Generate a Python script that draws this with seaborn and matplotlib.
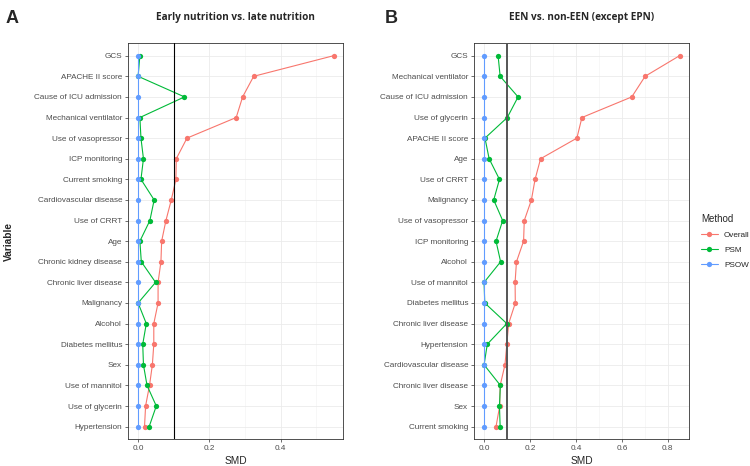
import pandas as pd
import matplotlib
matplotlib.use("Agg")
import matplotlib.pyplot as plt
from matplotlib.ticker import MultipleLocator
import seaborn as sns

# Panel A: early nutrition vs. late nutrition
variables_a = ['GCS', 'APACHE II score', 'Cause of ICU admission', 'Mechanical ventilator',
               'Use of vasopressor', 'ICP monitoring', 'Current smoking', 'Cardiovascular disease',
               'Use of CRRT', 'Age', 'Chronic kidney disease', 'Chronic liver disease',
               'Malignancy', 'Alcohol', 'Diabetes mellitus', 'Sex', 'Use of mannitol',
               'Use of glycerin', 'Hypertension']
overall_a = [0.548, 0.324, 0.293, 0.275, 0.137, 0.107, 0.106, 0.093, 0.078, 0.066,
             0.064, 0.056, 0.056, 0.044, 0.044, 0.040, 0.032, 0.021, 0.018]
psm_a = [0.005, 0.000, 0.130, 0.005, 0.008, 0.015, 0.008, 0.045, 0.033, 0.005,
         0.009, 0.049, 0.000, 0.023, 0.013, 0.015, 0.025, 0.051, 0.031]
psow_a = [0.001] * 19

# Panel B: EEN vs. non-EEN (except EPN)
variables_b = ['GCS', 'Mechanical ventilator', 'Cause of ICU admission', 'Use of glycerin',
               'APACHE II score', 'Age', 'Use of CRRT', 'Malignancy', 'Use of vasopressor',
               'ICP monitoring', 'Alcohol', 'Use of mannitol', 'Diabetes mellitus',
               'Chronic liver disease', 'Hypertension', 'Cardiovascular disease',
               'Chronic liver disease', 'Sex', 'Current smoking']
overall_b = [0.851, 0.701, 0.643, 0.426, 0.404, 0.246, 0.222, 0.206, 0.175, 0.172,
             0.141, 0.135, 0.136, 0.107, 0.099, 0.091, 0.070, 0.068, 0.052]
psm_b = [0.061, 0.070, 0.148, 0.101, 0.004, 0.022, 0.067, 0.042, 0.081, 0.052,
         0.072, 0.000, 0.003, 0.099, 0.014, 0.000, 0.071, 0.067, 0.070]
psow_b = [0.001] * 19

methods = ['Overall', 'PSM', 'PSOW']
palette = {'Overall': '#F8766D', 'PSM': '#00BA38', 'PSOW': '#619CFF'}


def make_df(variables, overall, psm, psow):
    rows = []
    for name, vals in zip(methods, [overall, psm, psow]):
        for i, v in enumerate(vals):
            rows.append({'pos': i, 'Variable': variables[i], 'SMD': v, 'Method': name})
    return pd.DataFrame(rows)


df_a = make_df(variables_a, overall_a, psm_a, psow_a)
df_b = make_df(variables_b, overall_b, psm_b, psow_b)

sns.set_style('white')
plt.rcParams['font.family'] = ['Liberation Sans', 'DejaVu Sans']

fig = plt.figure(figsize=(7.5, 4.66), dpi=100)
ax1 = fig.add_axes([0.1711, 0.058, 0.2867, 0.849])
ax2 = fig.add_axes([0.6324, 0.058, 0.2867, 0.849])

panels = [(ax1, df_a, variables_a, 'Early nutrition vs. late nutrition', 'black', 0.8),
          (ax2, df_b, variables_b, 'EEN vs. non-EEN (except EPN)', '#555555', 1.4)]

for ax, df, variables, title, vcol, vlw in panels:
    ax.set_axisbelow(True)
    sns.lineplot(data=df, x='SMD', y='pos', hue='Method', hue_order=methods,
                 palette=palette, orient='y', estimator=None, sort=True,
                 marker='o', markersize=3.8, markeredgewidth=0, linewidth=0.8, ax=ax)
    ax.axvline(0.1, color=vcol, linewidth=vlw, zorder=3)
    ax.margins(x=0.05)
    ax.set_ylim(len(variables) - 0.4, -0.6)
    ax.set_yticks(range(len(variables)))
    ax.set_yticklabels(variables)
    ax.xaxis.set_major_locator(MultipleLocator(0.2))
    ax.xaxis.set_minor_locator(MultipleLocator(0.1))
    ax.grid(which='major', color='#EBEBEB', linewidth=0.6)
    ax.grid(which='minor', axis='x', color='#F2F2F2', linewidth=0.4)
    ax.tick_params(axis='both', which='major', labelsize=5.9, colors='#333333',
                   labelcolor='#4D4D4D', length=2.5, width=0.5, direction='out',
                   left=True, bottom=True, pad=2)
    ax.tick_params(axis='x', which='minor', length=0)
    ax.xaxis.set_major_formatter(matplotlib.ticker.FormatStrFormatter('%.1f'))
    for sp in ax.spines.values():
        sp.set_color('#333333')
        sp.set_linewidth(0.6)
    ax.set_xlabel('SMD', fontsize=7.3, labelpad=3)
    ax.set_ylabel('')
    ax.set_title(title, fontsize=7.2, fontweight='bold',
                 family=['Open Sans', 'DejaVu Sans'], pad=17)

ax1.set_ylabel('Variable', fontsize=7.3, fontweight='bold')
ax1.yaxis.set_label_coords(-0.53, 0.5)

handles, labels = ax1.get_legend_handles_labels()
ax1.get_legend().remove()
ax2.get_legend().remove()
leg = fig.legend(handles, labels, title='Method', loc='center left',
                 bbox_to_anchor=(0.925, 0.482), frameon=False, fontsize=5.9,
                 title_fontsize=7.0, handlelength=2.0, labelspacing=0.9)
leg._legend_box.align = 'left'

fig.text(0.008, 0.978, 'A', fontsize=13, fontweight='bold', va='top')
fig.text(0.513, 0.978, 'B', fontsize=13, fontweight='bold', va='top')

plt.savefig('out.png', dpi=100)
